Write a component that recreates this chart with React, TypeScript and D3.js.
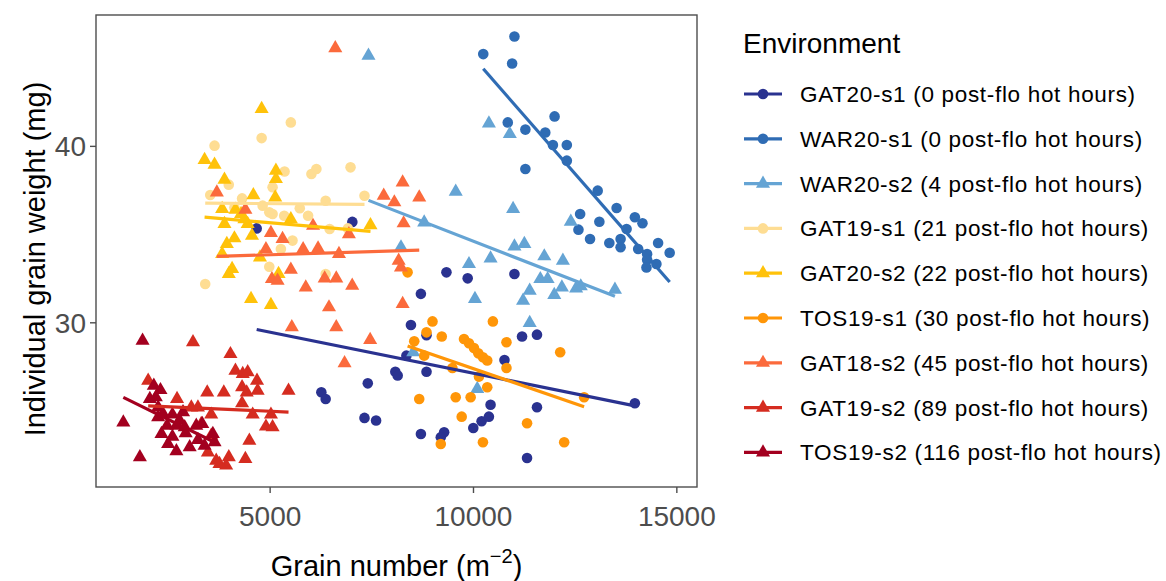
import React from 'react';
import * as d3 from 'd3';

// Environments in legend order, with post-flowering hot hours
const environments = ['GAT20-s1', 'WAR20-s1', 'WAR20-s2', 'GAT19-s1', 'GAT20-s2', 'TOS19-s1', 'GAT18-s2', 'GAT19-s2', 'TOS19-s2'];
const hotHours = [0, 0, 4, 21, 22, 30, 45, 89, 116];
const colors = ['#2a3290', '#2f6cb4', '#65a4d4', '#fedd93', '#ffc20a', '#ff9608', '#fb6a3c', '#d52c20', '#a3001f'];
const shapes = ['circle', 'circle', 'triangle', 'circle', 'triangle', 'circle', 'triangle', 'triangle', 'triangle'];

// Grain number (m^-2) vs individual grain weight (mg), one array per environment
const GAT20_s1: [number, number][] = [
  [4669, 35.35], [7021, 35.72], [9335, 32.86], [9857, 32.52], [11007, 32.77], [8707, 31.64], [8462, 29.88],
  [8845, 29.3], [11194, 29.22], [11561, 29.33], [10762, 27.89], [8078, 27.23], [8136, 27.01], [8845, 27.23],
  [7401, 26.57], [6259, 26.06], [6365, 25.68], [7320, 24.61], [7605, 24.46], [8707, 23.7], [9278, 23.8],
  [9196, 23.51], [9995, 24.04], [10199, 24.42], [10379, 24.68], [10420, 25.36], [11561, 25.21], [11317, 22.34],
  [13968, 25.44], [8350, 28.14],
];
const WAR20_s1: [number, number][] = [
  [10240, 45.23], [11007, 46.23], [10950, 44.7], [10843, 41.36], [11276, 40.95], [11994, 41.7], [11765, 40.79],
  [11953, 40.08], [12295, 40.08], [12295, 39.19], [11276, 38.72], [13054, 37.49], [13519, 36.51], [12622, 36.17],
  [13968, 35.98], [14155, 35.64], [13095, 35.73], [12581, 35.28], [13764, 35.32], [12866, 34.75], [13340, 34.52],
  [13617, 34.75], [13617, 34.28], [14539, 34.52], [14049, 34.18], [14269, 33.9], [14824, 33.97], [14269, 33.58],
  [14498, 33.33], [14253, 33.14],
];
const WAR20_s2: [number, number][] = [
  [7418, 45.14], [10379, 41.3], [10893, 40.7], [9563, 37.43], [8788, 35.69], [8217, 34.28], [9889, 33.33],
  [10420, 33.65], [10036, 31.35], [10974, 36.45], [12393, 35.73], [11007, 34.33], [11251, 34.47], [11741, 33.77],
  [12198, 33.52], [11643, 32.48], [11822, 32.48], [11382, 31.82], [12173, 32.01], [11986, 31.58], [12524, 31.95],
  [12638, 32.07], [13478, 31.88], [11219, 31.26], [11382, 29.99], [8519, 28.33], [10093, 26.25],
];
const GAT19_s1: [number, number][] = [
  [3404, 32.2], [3527, 37.24], [3633, 40.04], [3983, 37.83], [4122, 36.54], [4310, 37.05], [4791, 40.47],
  [4816, 36.64], [4979, 36.26], [5060, 36.17], [5060, 37.68], [5346, 36.07], [5354, 38.58], [5509, 41.36],
  [5550, 34.66], [5264, 34.18], [4979, 33.18], [6015, 38.43], [6137, 38.72], [6977, 38.81], [6365, 36.92],
  [7320, 37.2], [5729, 36.49], [5933, 36.07], [6463, 35.32], [6912, 35.35], [6365, 32.77],
];
const GAT20_s2: [number, number][] = [
  [4791, 42.12], [3388, 39.23], [3633, 38.96], [5142, 38.62], [3877, 38.11], [5142, 38.15], [4587, 37.24],
  [5125, 37.11], [3820, 36.45], [4147, 36.41], [4285, 36.17], [4367, 35.88], [4448, 35.6], [3877, 35.6],
  [4554, 34.94], [4122, 34.79], [3935, 34.47], [3820, 33.9], [4750, 33.71], [4065, 33.05], [3983, 32.77],
  [5207, 32.77], [4530, 31.35], [5019, 31.01], [5509, 35.88], [7467, 35.54],
];
const TOS19_s1: [number, number][] = [
  [8380, 32.86], [8992, 30.08], [10477, 30.08], [8845, 29.46], [9220, 29.22], [8543, 28.95], [8788, 28.14],
  [9767, 29.08], [9889, 28.84], [10012, 28.57], [10118, 28.27], [10232, 28.05], [10338, 27.86], [9481, 27.44],
  [10134, 26.95], [10338, 26.35], [9563, 25.78], [9930, 25.78], [8666, 25.68], [9710, 24.68], [9196, 23.13],
  [10232, 23.23], [10811, 28.9], [12132, 28.33], [10811, 27.44], [12720, 25.78], [11317, 24.31], [12230, 23.23],
];
const GAT18_s2: [number, number][] = [
  [6602, 45.57], [3690, 37.39], [4391, 36.41], [5019, 35.09], [5305, 34.75], [4897, 34.18], [5509, 33.01],
  [5044, 32.48], [5183, 32.39], [5533, 29.75], [8258, 37.96], [7793, 37.21], [8054, 36.83], [8666, 37.11],
  [8282, 35.64], [6936, 35.03], [6055, 35.5], [5811, 34.18], [6178, 34.22], [6692, 33.9], [8160, 33.52],
  [8217, 33.14], [6341, 32.52], [6626, 32.52], [5876, 32.01], [7018, 32.11], [6447, 30.88], [8258, 31.07],
  [6626, 29.75], [7459, 29.03], [6830, 27.71],
];
const GAT19_s2: [number, number][] = [
  [3103, 28.9], [4024, 28.23], [4147, 27.29], [4326, 27.1], [4448, 27.2], [4677, 26.72], [4310, 26.35],
  [4424, 26.06], [4693, 26.16], [3453, 26.06], [3861, 26.06], [5452, 26.16], [2001, 26.72], [2711, 25.69],
  [4310, 25.44], [3062, 25.21], [3225, 25.21], [3551, 24.8], [4571, 24.8], [5020, 24.8], [4897, 24.12],
  [5060, 24.08], [3306, 24.27], [4489, 23.32], [3551, 23.61], [3470, 22.66], [3674, 22.19], [3984, 22.38],
  [3918, 21.91], [4391, 22.29], [3755, 22.0],
];
const TOS19_s2: [number, number][] = [
  [1863, 28.99], [1390, 24.36], [1797, 22.38], [2140, 26.44], [2303, 26.19], [2189, 25.78], [2246, 25.21],
  [2368, 24.84], [2597, 24.8], [2776, 24.46], [2246, 24.65], [2466, 24.17], [2695, 24.17], [2899, 24.08],
  [2328, 23.7], [2597, 23.55], [2923, 23.74], [3184, 24.17], [3331, 24.27], [2491, 23.13], [2695, 22.72],
  [3021, 22.95], [3388, 23.04], [3592, 23.7], [3633, 23.23], [3225, 23.36], [2042, 25.69], [2858, 24.93],
];

const seriesData = [GAT20_s1, WAR20_s1, WAR20_s2, GAT19_s1, GAT20_s2, TOS19_s1, GAT18_s2, GAT19_s2, TOS19_s2];

const xTicks = [5000, 10000, 15000];
const yTicks = [30, 40];

const W = 1166;
const H = 581;
const panel = { left: 96, right: 697, top: 15, bottom: 487 };
const font = '"Liberation Sans", Arial, Helvetica, sans-serif';

// Ordinary least-squares fit, drawn over each group's x range
function linearFit(pts: [number, number][]) {
  const mx = d3.mean(pts, (p) => p[0]) as number;
  const my = d3.mean(pts, (p) => p[1]) as number;
  let sxy = 0;
  let sxx = 0;
  pts.forEach(([x, y]) => {
    sxy += (x - mx) * (y - my);
    sxx += (x - mx) * (x - mx);
  });
  const slope = sxy / sxx;
  const intercept = my - slope * mx;
  const [x0, x1] = d3.extent(pts, (p) => p[0]) as [number, number];
  return [
    [x0, intercept + slope * x0],
    [x1, intercept + slope * x1],
  ] as [number, number][];
}

function expand([a, b]: [number, number], f = 0.05): [number, number] {
  const pad = (b - a) * f;
  return [a - pad, b + pad];
}

export default function App() {
  const all = seriesData.flat();
  const x = d3
    .scaleLinear()
    .domain(expand(d3.extent(all, (p) => p[0]) as [number, number]))
    .range([panel.left, panel.right]);
  const y = d3
    .scaleLinear()
    .domain(expand(d3.extent(all, (p) => p[1]) as [number, number]))
    .range([panel.bottom, panel.top]);

  const tri = d3.symbol(d3.symbolTriangle, 86)();
  const line = d3
    .line<[number, number]>()
    .x((d) => x(d[0]))
    .y((d) => y(d[1]));

  const mark = (shape: string, color: string, cx: number, cy: number, key: string | number) =>
    shape === 'circle' ? (
      <circle key={key} cx={cx} cy={cy} r={5.3} fill={color} />
    ) : (
      <path key={key} d={tri as string} transform={`translate(${cx},${cy})`} fill={color} />
    );

  const legendTop = 94;
  const legendStep = 44.8;

  return (
    <svg width={W} height={H} style={{ position: 'absolute', left: 0, top: 0, background: '#fff' }}>
      <rect x={0} y={0} width={W} height={H} fill="#fff" />
      <defs>
        <clipPath id="panel-clip">
          <rect x={panel.left} y={panel.top} width={panel.right - panel.left} height={panel.bottom - panel.top} />
        </clipPath>
      </defs>

      <g clipPath="url(#panel-clip)">
        {seriesData.map((pts, i) => (
          <g key={environments[i]}>{pts.map((p, j) => mark(shapes[i], colors[i], x(p[0]), y(p[1]), j))}</g>
        ))}
        {seriesData.map((pts, i) => (
          <path
            key={`fit-${environments[i]}`}
            d={line(linearFit(pts)) as string}
            fill="none"
            stroke={colors[i]}
            strokeWidth={3.2}
            strokeLinecap="butt"
          />
        ))}
      </g>

      <rect
        x={panel.left}
        y={panel.top}
        width={panel.right - panel.left}
        height={panel.bottom - panel.top}
        fill="none"
        stroke="#4d4d4d"
        strokeWidth={1.4}
      />

      {/* x axis */}
      {xTicks.map((t) => (
        <g key={`xt-${t}`}>
          <line x1={x(t)} x2={x(t)} y1={panel.bottom} y2={panel.bottom + 6} stroke="#4d4d4d" strokeWidth={1.4} />
          <text x={x(t)} y={panel.bottom + 39} textAnchor="middle" fontFamily={font} fontSize={28} fill="#4d4d4d">
            {t}
          </text>
        </g>
      ))}
      <text x={(panel.left + panel.right) / 2} y={576} textAnchor="middle" fontFamily={font} fontSize={29} fill="#000">
        Grain number (m
        <tspan dy={-13} fontSize={20}>
          −2
        </tspan>
        <tspan dy={13}>)</tspan>
      </text>

      {/* y axis */}
      {yTicks.map((t) => (
        <g key={`yt-${t}`}>
          <line x1={panel.left - 6} x2={panel.left} y1={y(t)} y2={y(t)} stroke="#4d4d4d" strokeWidth={1.4} />
          <text x={panel.left - 10} y={y(t) + 10} textAnchor="end" fontFamily={font} fontSize={28} fill="#4d4d4d">
            {t}
          </text>
        </g>
      ))}
      <text
        transform={`translate(45,${(panel.top + panel.bottom) / 2 + 8}) rotate(-90)`}
        textAnchor="middle"
        fontFamily={font}
        fontSize={29}
        fill="#000"
      >
        Individual grain weight (mg)
      </text>

      {/* legend */}
      <text x={743} y={53} fontFamily={font} fontSize={28} fill="#000">
        Environment
      </text>
      {environments.map((env, i) => {
        const cy = legendTop + i * legendStep;
        return (
          <g key={`lg-${env}`}>
            <line x1={744} x2={782} y1={cy} y2={cy} stroke={colors[i]} strokeWidth={3.2} />
            {mark(shapes[i], colors[i], 763, cy, 'k')}
            <text x={800} y={cy + 8} fontFamily={font} fontSize={22.5} fill="#000" letterSpacing={0.68}>
              {`${env} (${hotHours[i]} post-flo hot hours)`}
            </text>
          </g>
        );
      })}
    </svg>
  );
}
